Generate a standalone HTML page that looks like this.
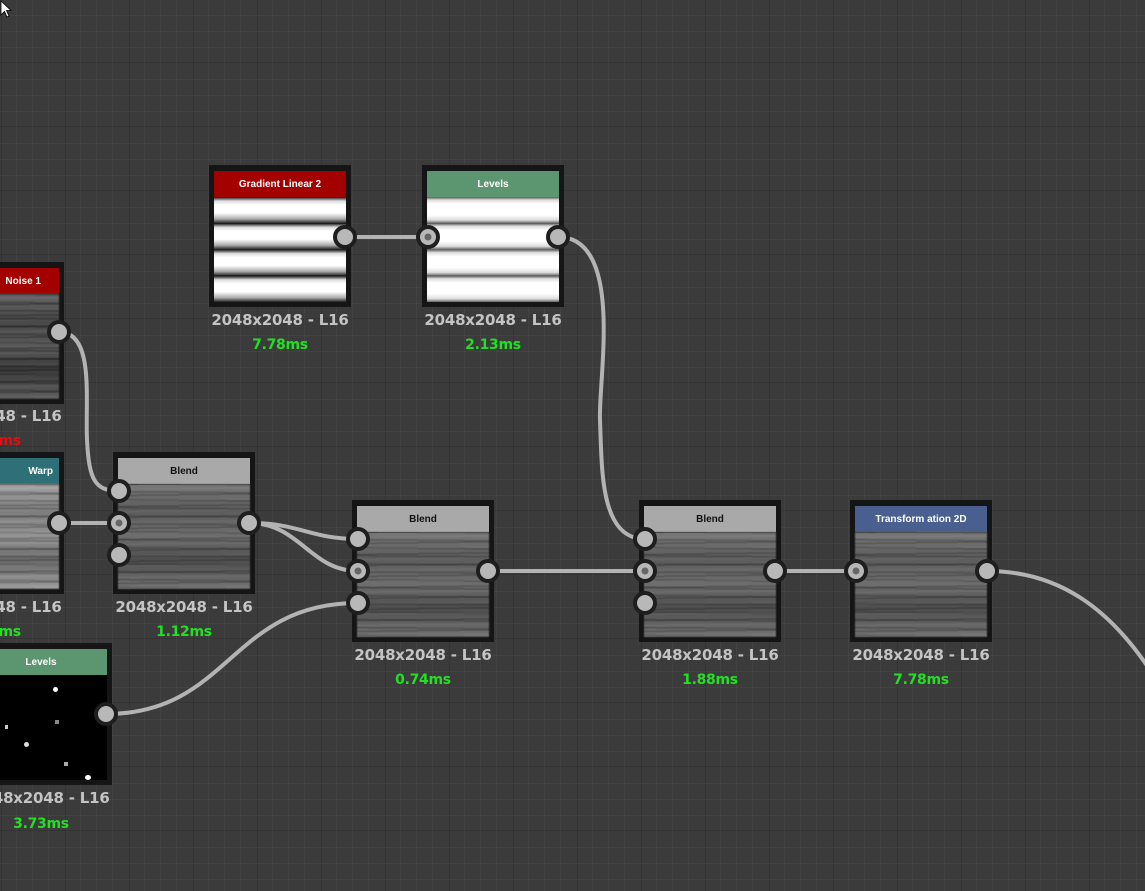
<!DOCTYPE html>
<html><head><meta charset="utf-8"><style>
html,body{margin:0;padding:0}
body{width:1145px;height:891px;overflow:hidden;position:relative;font-family:"Liberation Sans",sans-serif;
background-color:#3b3b3b;
background-image:
linear-gradient(90deg,rgba(255,255,255,0.035) 1px,transparent 1px),
linear-gradient(0deg,rgba(255,255,255,0.035) 1px,transparent 1px),
linear-gradient(90deg,rgba(0,0,0,0.12) 2px,transparent 2px),
linear-gradient(0deg,rgba(0,0,0,0.12) 2px,transparent 2px);
background-size:16px 16px,16px 16px,64px 64px,64px 64px;}
#wrap{position:absolute;left:0;top:0;width:1145px;height:891px;overflow:hidden}
.n{position:absolute;width:142px;height:142px;background:#151515;box-sizing:border-box}
.h{position:absolute;left:5px;top:6px;width:132px;height:26px;font-size:10px;font-weight:bold;color:#fff;text-align:center;line-height:28px}
.img{position:absolute;left:5px;top:32px;width:132px;height:105px;overflow:hidden}
.wood{background:
repeating-linear-gradient(179.3deg,rgba(0,0,0,0.3) 0 1px,transparent 1px 5px,rgba(255,255,255,0.08) 5px 6px,transparent 6px 11px),
repeating-linear-gradient(180.6deg,rgba(0,0,0,0.18) 0 2px,transparent 2px 8px),
linear-gradient(180deg,#7a7a7a,#5c5c5c 25%,#6e6e6e 50%,#4e4e4e 72%,#747474);}
.grad{background:repeating-linear-gradient(180deg,#111 0,#ddd 4px,#fff 8px,#fff 16px,#aaa 22px,#222 26.25px)}
.lbl{position:absolute;width:200px;text-align:center;font-size:15px;font-weight:bold;color:#c4c4c4;font-family:"DejaVu Sans","Liberation Sans",sans-serif;letter-spacing:-0.2px}
.ms{position:absolute;width:200px;text-align:center;font-size:14px;font-weight:bold;color:#22e022;font-family:"DejaVu Sans","Liberation Sans",sans-serif;letter-spacing:-0.3px}
</style></head><body><div id="wrap">
<svg width="1145" height="891" style="position:absolute;left:0;top:0" xmlns="http://www.w3.org/2000/svg">
<g fill="none" stroke="#b3b3b3" stroke-width="4">
<path d="M345 237 L428 237"/>
<path d="M558 237 C625 237 598 380 600 420 C602 470 600 539 645 539"/>
<path d="M59 332 C95 332 85 400 87 440 C89 480 95 491 119 491"/>
<path d="M59 523 L119 523"/>
<path d="M249 523 C300 523 310 539 358 539"/>
<path d="M249 523 C300 523 310 571 358 571"/>
<path d="M106 714 C230 714 230 603 358 603"/>
<path d="M488 571 L645 571"/>
<path d="M775 571 L856 571"/>
<path d="M987 571 C1060 571 1110 610 1150 670"/>
</g>
</svg>

<div class="n" style="left:209px;top:165px"><div class="h" style="background:#a30000">Gradient Linear 2</div><div class="img grad"></div></div>
<div class="lbl" style="left:180px;top:311px">2048x2048 - L16</div><div class="ms" style="left:180px;top:337px">7.78ms</div>
<div class="n" style="left:422px;top:165px"><div class="h" style="background:#5b9670">Levels</div><div class="img grad" style="background:repeating-linear-gradient(180deg,#555 0,#ddd 3px,#fff 7px,#fff 18px,#ddd 23px,#666 26.25px)"></div></div>
<div class="lbl" style="left:393px;top:311px">2048x2048 - L16</div><div class="ms" style="left:393px;top:337px">2.13ms</div>
<div class="n" style="left:-78px;top:262px"><div class="h" style="background:#a30000;text-align:right;padding-right:18px;box-sizing:border-box">Noise 1</div><div class="img wood" style="filter:contrast(1.2) brightness(0.85) blur(0.4px)"></div></div>
<div class="lbl" style="left:-107px;top:407px">2048x2048 - L16</div><div class="ms" style="left:-107px;top:433px;color:#e01010">7.77ms</div>
<div class="n" style="left:-78px;top:452px"><div class="h" style="background:#2e6f78;text-align:right;padding-right:6px;box-sizing:border-box">Warp</div><div class="img wood" style="filter:brightness(1.35) blur(0.4px)"></div></div>
<div class="lbl" style="left:-107px;top:598px">2048x2048 - L16</div><div class="ms" style="left:-107px;top:624px">1.33ms</div>
<div class="n" style="left:113px;top:452px"><div class="h" style="background:#a9a9a9;color:#111">Blend</div><div class="img wood" style="filter:blur(0.4px)"></div></div>
<div class="lbl" style="left:84px;top:598px">2048x2048 - L16</div><div class="ms" style="left:84px;top:624px">1.12ms</div>
<div class="n" style="left:-30px;top:643px"><div class="h" style="background:#5b9670">Levels</div><div class="img" style="background:#000">
<div style="position:absolute;left:78px;top:12px;width:5px;height:5px;background:#fff;border-radius:50%"></div>
<div style="position:absolute;left:80px;top:45px;width:4px;height:4px;background:#888"></div>
<div style="position:absolute;left:49px;top:67px;width:5px;height:5px;background:#ddd;border-radius:50%"></div>
<div style="position:absolute;left:89px;top:87px;width:4px;height:4px;background:#aaa"></div>
<div style="position:absolute;left:110px;top:100px;width:6px;height:5px;background:#fff;border-radius:50%"></div>
<div style="position:absolute;left:30px;top:50px;width:3px;height:4px;background:#ccc"></div>
</div></div>
<div class="lbl" style="left:-59px;top:789px">2048x2048 - L16</div><div class="ms" style="left:-59px;top:816px">3.73ms</div>
<div class="n" style="left:352px;top:500px"><div class="h" style="background:#a9a9a9;color:#111">Blend</div><div class="img wood" style="filter:blur(0.4px)"></div></div>
<div class="lbl" style="left:323px;top:646px">2048x2048 - L16</div><div class="ms" style="left:323px;top:672px">0.74ms</div>
<div class="n" style="left:639px;top:500px"><div class="h" style="background:#a9a9a9;color:#111">Blend</div><div class="img wood" style="filter:blur(0.4px)"></div></div>
<div class="lbl" style="left:610px;top:646px">2048x2048 - L16</div><div class="ms" style="left:610px;top:672px">1.88ms</div>
<div class="n" style="left:850px;top:500px"><div class="h" style="background:#485f8f">Transform ation 2D</div><div class="img wood" style="filter:blur(0.4px)"></div></div>
<div class="lbl" style="left:821px;top:646px">2048x2048 - L16</div><div class="ms" style="left:821px;top:672px">7.78ms</div>

<svg width="1145" height="891" style="position:absolute;left:0;top:0" xmlns="http://www.w3.org/2000/svg">
<g fill="#b8b8b8" stroke="#1e1e1e" stroke-width="4">
<circle cx="345" cy="237" r="10"/><circle cx="428" cy="237" r="10"/><circle cx="558" cy="237" r="10"/>
<circle cx="59" cy="332" r="10"/><circle cx="59" cy="523" r="10"/>
<circle cx="119" cy="491" r="10"/><circle cx="119" cy="523" r="10"/><circle cx="119" cy="555" r="10"/><circle cx="249" cy="523" r="10"/>
<circle cx="106" cy="714" r="10"/>
<circle cx="358" cy="539" r="10"/><circle cx="358" cy="571" r="10"/><circle cx="358" cy="603" r="10"/><circle cx="488" cy="571" r="10"/>
<circle cx="645" cy="539" r="10"/><circle cx="645" cy="571" r="10"/><circle cx="645" cy="603" r="10"/><circle cx="775" cy="571" r="10"/>
<circle cx="856" cy="571" r="10"/><circle cx="987" cy="571" r="10"/>
</g>
<g fill="#666"><circle cx="428" cy="237" r="3.5"/><circle cx="119" cy="523" r="3.5"/><circle cx="358" cy="571" r="3.5"/><circle cx="645" cy="571" r="3.5"/><circle cx="856" cy="571" r="3.5"/></g>
<path d="M1 1 L1 15 L4.5 11.5 L7 17 L9 16 L6.5 10.5 L11 10.5 Z" fill="#fff" stroke="#000" stroke-width="0.8"/>
</svg>
</div></body></html>
